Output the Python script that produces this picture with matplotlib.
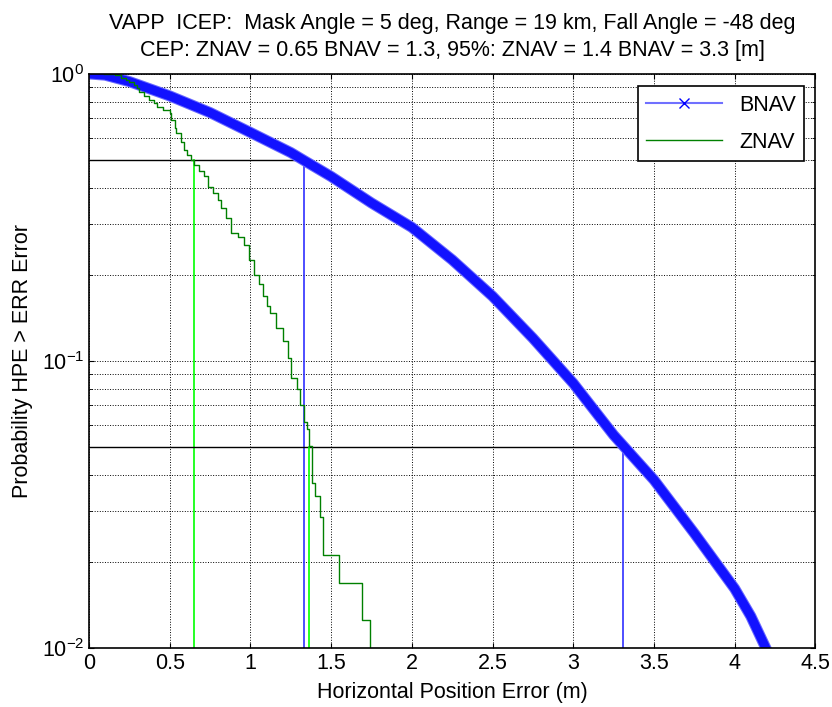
import matplotlib
matplotlib.use('Agg')
import matplotlib.pyplot as plt
from matplotlib.lines import Line2D
from matplotlib.ticker import LogLocator

plt.rcParams['font.family'] = ['Liberation Sans', 'DejaVu Sans']
plt.rcParams['mathtext.default'] = 'regular'
plt.rcParams['font.size'] = 15.5

# BNAV curve
bnav_x = [0.0, 0.1, 0.25, 0.5, 0.75, 1.0, 1.25, 1.33, 1.5, 1.75, 2.0, 2.25,
          2.5, 2.75, 3.0, 3.25, 3.5, 3.75, 4.0, 4.1, 4.2]
bnav_y = [1.0, 0.99, 0.94, 0.838, 0.733, 0.625, 0.532, 0.5, 0.439, 0.355,
          0.292, 0.225, 0.168, 0.12, 0.0836, 0.0552, 0.0385, 0.0251, 0.0161,
          0.0129, 0.0098]

# ZNAV empirical curve (step)
znav_x = [0.09, 0.16, 0.20, 0.23, 0.25, 0.28, 0.30, 0.31, 0.34, 0.37, 0.40,
          0.42, 0.46, 0.50, 0.51, 0.53, 0.54, 0.57, 0.59, 0.61, 0.63, 0.65,
          0.68, 0.71, 0.74, 0.77, 0.80, 0.82, 0.85, 0.88, 0.92, 0.96, 0.99,
          1.02, 1.05, 1.08, 1.10, 1.12, 1.16, 1.20, 1.23, 1.25, 1.29, 1.31,
          1.33, 1.35, 1.36, 1.38, 1.40, 1.43, 1.45, 1.55, 1.69, 1.74]
znav_y = [1.0, 0.99, 0.97, 0.955, 0.94, 0.915, 0.89, 0.868, 0.84, 0.812,
          0.79, 0.765, 0.75, 0.73, 0.69, 0.65, 0.62, 0.58, 0.545, 0.52, 0.502,
          0.482, 0.46, 0.44, 0.405, 0.385, 0.364, 0.34, 0.314, 0.278, 0.27,
          0.254, 0.225, 0.20, 0.185, 0.168, 0.155, 0.147, 0.13, 0.117, 0.102,
          0.087, 0.080, 0.070, 0.0615, 0.058, 0.0505, 0.0375, 0.0338, 0.0287,
          0.0211, 0.0168, 0.0125, 0.009]

# CEP (50%) and 95% values
levels = [0.5, 0.05]
znav_err = [0.65, 1.36]
bnav_err = [1.33, 3.31]

fig = plt.figure(figsize=(8.32, 7.07), dpi=100)
ax = fig.add_axes([0.107, 0.0835, 0.873, 0.812])

# reference lines
for lev, ze, be in zip(levels, znav_err, bnav_err):
    ax.plot([0, be], [lev, lev], color='k', lw=1)
    ax.plot([ze, ze], [1e-3, lev], color='#00ff00', lw=1.2)
    ax.plot([be, be], [1e-3, lev], color='#3030ff', lw=1.2)

ax.plot(bnav_x, bnav_y, color='#6a6aff', lw=8, solid_capstyle='butt')
ax.plot(bnav_x, bnav_y, color='#1212ff', lw=6.5, solid_capstyle='butt')
ax.plot(znav_x, znav_y, color=(0, 0.5, 0), lw=1, drawstyle='steps-post')

ax.set_yscale('log')
ax.set_xlim(0, 4.5)
ax.set_ylim(0.01, 1)
ax.set_xticks([0, 0.5, 1, 1.5, 2, 2.5, 3, 3.5, 4, 4.5])
ax.set_xticklabels(['0', '0.5', '1', '1.5', '2', '2.5', '3', '3.5', '4', '4.5'])
ax.yaxis.set_minor_locator(LogLocator(base=10, subs=range(2, 10)))
ax.grid(True, which='both', ls=':', color='k', lw=0.7)
ax.tick_params(which='both', direction='in', top=True, right=True)
ax.tick_params(axis='y', which='minor', labelleft=False)
for s in ax.spines.values():
    s.set_linewidth(1.2)

ax.set_xlabel('Horizontal Position Error (m)', labelpad=6)
ax.set_ylabel('Probability HPE > ERR Error', labelpad=6)

cx = 0.107 + 0.873 / 2
fig.text(cx, 1 - 29 / 707, 'VAPP  ICEP:  Mask Angle = 5 deg, Range = 19 km, Fall Angle = -48 deg',
         ha='center', va='baseline')
fig.text(cx, 1 - 56 / 707, 'CEP: ZNAV = 0.65 BNAV = 1.3, 95%: ZNAV = 1.4 BNAV = 3.3 [m]',
         ha='center', va='baseline')

handles = [Line2D([], [], color='#7070ff', marker='x', mec='b', ms=7, lw=1.5),
           Line2D([], [], color=(0, 0.5, 0), lw=1)]
leg = ax.legend(handles, ['BNAV', 'ZNAV'], loc='upper right',
                bbox_to_anchor=(0.985, 0.979), borderaxespad=0,
                handlelength=3.5, labelspacing=0.75, fancybox=False,
                framealpha=1, edgecolor='k', fontsize=15.5)
leg.get_frame().set_linewidth(1.2)

fig.savefig('out.png', dpi=100)
